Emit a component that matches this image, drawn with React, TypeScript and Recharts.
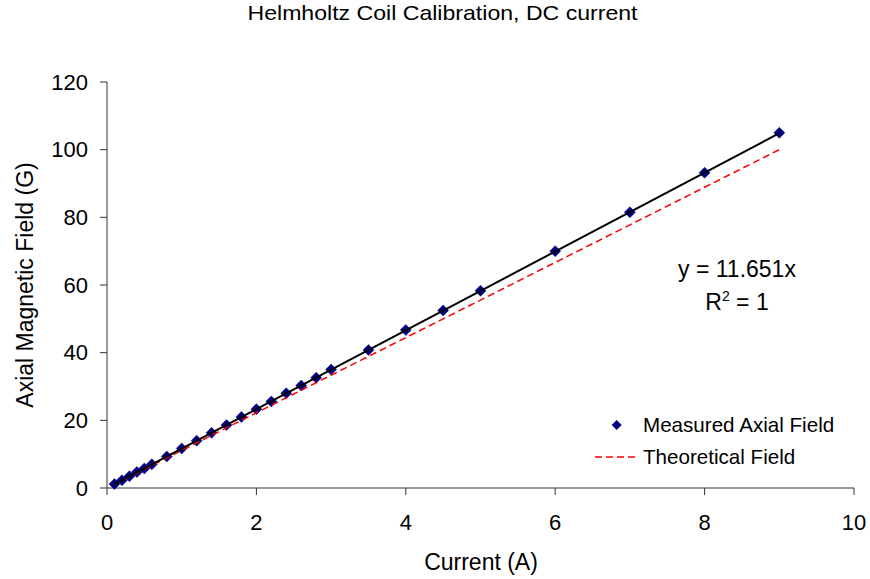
import { ScatterChart, Scatter, XAxis, YAxis } from 'recharts'

const currents = [0.1, 0.2, 0.3, 0.4, 0.5, 0.6, 0.8, 1.0, 1.2, 1.4, 1.6, 1.8, 2.0, 2.2, 2.4, 2.6, 2.8, 3.0, 3.5, 4.0, 4.5, 5.0, 6.0, 7.0, 8.0, 9.0]
const measuredField = [1.2, 2.3, 3.5, 4.7, 5.8, 7.0, 9.3, 11.7, 14.0, 16.3, 18.6, 21.0, 23.3, 25.6, 28.0, 30.3, 32.6, 35.0, 40.8, 46.7, 52.5, 58.3, 70.0, 81.5, 93.2, 105.0]
const theoreticalField = [1.11, 2.22, 3.33, 4.44, 5.56, 6.67, 8.89, 11.11, 13.33, 15.55, 17.78, 20.0, 22.22, 24.44, 26.66, 28.89, 31.11, 33.33, 38.89, 44.44, 50.0, 55.55, 66.66, 77.77, 88.88, 100.0]
const trendCurrents = [0.1, 9.0]
const trendField = [1.17, 104.86]
const xTicks = [0, 2, 4, 6, 8, 10]
const yTicks = [0, 20, 40, 60, 80, 100, 120]

const FONT = '"Liberation Sans", Arial, sans-serif'
const AXIS = '#333'

const measured = currents.map((x, i) => ({ x, y: measuredField[i] }))
const theoretical = currents.map((x, i) => ({ x, y: theoreticalField[i] }))
const trend = trendCurrents.map((x, i) => ({ x, y: trendField[i] }))

// navy diamond marker, like the Excel default
function Diamond(props: any) {
  const { cx, cy } = props
  const r = 5.5
  return (
    <polygon
      points={`${cx},${cy - r} ${cx + r},${cy} ${cx},${cy + r} ${cx - r},${cy}`}
      fill="#000080"
      stroke="#000080"
      strokeWidth={0.5}
    />
  )
}

function LegendBox() {
  return (
    <div
      style={{ position: 'absolute', left: 595, top: 409, fontFamily: FONT, fontSize: 20.6, color: '#000' }}
    >
      <div style={{ display: 'flex', alignItems: 'center', height: 32 }}>
        <svg width={48} height={32}>
          <polygon points="21.7,11 26.7,16 21.7,21 16.7,16" fill="#000080" />
        </svg>
        <span>Measured Axial Field</span>
      </div>
      <div style={{ display: 'flex', alignItems: 'center', height: 32 }}>
        <svg width={48} height={32}>
          <line x1={0} y1={16} x2={43} y2={16} stroke="#ff0000" strokeWidth={1.5} strokeDasharray="7 4" />
        </svg>
        <span>Theoretical Field</span>
      </div>
    </div>
  )
}

export default function App() {
  return (
    <div style={{ position: 'relative', width: 870, height: 579, fontFamily: FONT }}>
      <style>{'body { margin: 0; }'}</style>
      <ScatterChart width={870} height={579} margin={{ top: 82, right: 16, bottom: 41, left: 0 }}>
        <XAxis
          type="number"
          dataKey="x"
          domain={[0, 10]}
          ticks={xTicks}
          height={50}
          tickSize={7}
          tickMargin={19}
          stroke={AXIS}
          tick={{ fill: '#000', fontSize: 22, fontFamily: FONT }}
        />
        <YAxis
          type="number"
          dataKey="y"
          domain={[0, 120]}
          ticks={yTicks}
          width={107}
          tickSize={7}
          tickMargin={12}
          stroke={AXIS}
          tick={{ fill: '#000', fontSize: 22, fontFamily: FONT }}
        />
        <Scatter name="Measured Axial Field" data={measured} shape={<Diamond />} isAnimationActive={false} />
        <Scatter
          name="Theoretical Field"
          data={theoretical}
          line={{ stroke: '#ff0000', strokeWidth: 1.5, strokeDasharray: '7 4' }}
          shape={() => <g />}
          isAnimationActive={false}
        />
        <Scatter
          name="Trendline"
          data={trend}
          line={{ stroke: '#000', strokeWidth: 2 }}
          shape={() => <g />}
          isAnimationActive={false}
        />
      </ScatterChart>
      <LegendBox />
      <svg
        width={870}
        height={579}
        style={{ position: 'absolute', left: 0, top: 0, pointerEvents: 'none' }}
        fontFamily={FONT}
      >
        <text
          x={442.5}
          y={20}
          textAnchor="middle"
          fontSize={21}
          fill="#000"
          textLength={390}
          lengthAdjust="spacingAndGlyphs"
        >
          Helmholtz Coil Calibration, DC current
        </text>
        <text x={481} y={570} textAnchor="middle" fontSize={23} fill="#000">
          Current (A)
        </text>
        <text x={33} y={285} textAnchor="middle" fontSize={23} fill="#000" transform="rotate(-90, 33, 285)">
          Axial Magnetic Field (G)
        </text>
        <text x={737} y={277} textAnchor="middle" fontSize={23} fill="#000">
          y = 11.651x
        </text>
        <text x={737} y={310} textAnchor="middle" fontSize={23} fill="#000">
          R<tspan fontSize={14} dy={-9}>2</tspan>
          <tspan dy={9}> = 1</tspan>
        </text>
      </svg>
    </div>
  )
}
